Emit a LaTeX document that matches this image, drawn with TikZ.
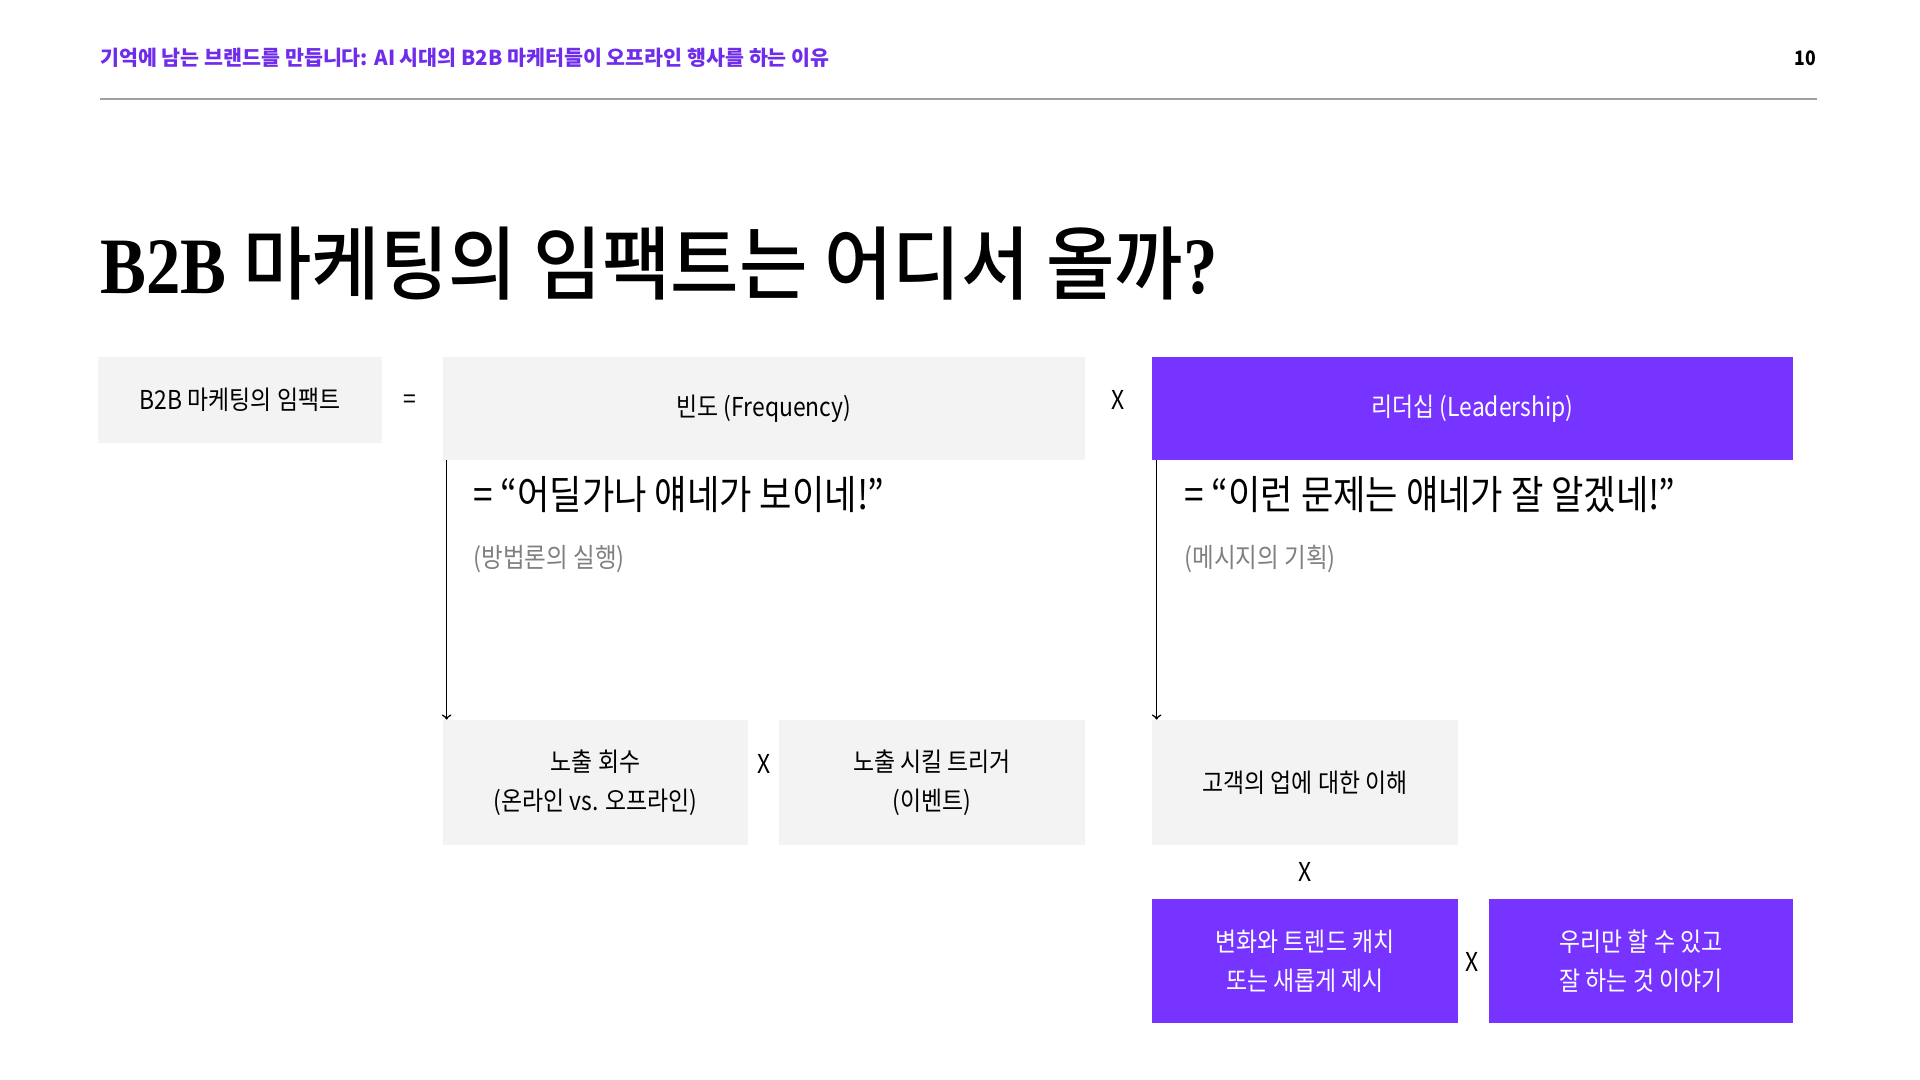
\documentclass[tikz,border=0pt]{standalone}
\usepackage{fontspec}
\setmainfont{Noto Sans CJK KR}[FakeStretch=0.88]
\newfontfamily\headfont{Noto Sans CJK KR}
\newfontfamily\titlefont{Noto Sans CJK KR Medium}[FakeStretch=0.93]
\newfontfamily\titleserif{Liberation Serif}[FakeStretch=0.86]
\definecolor{brandpurple}{RGB}{119,51,255}
\definecolor{headpurple}{RGB}{112,44,235}
\definecolor{boxgray}{RGB}{243,243,243}
\definecolor{notegray}{RGB}{128,128,128}
\definecolor{rulegray}{RGB}{160,160,160}

\begin{document}
\begin{tikzpicture}[x=0.5pt, y=-0.5pt]
        \tikzstyle{every node}=[inner sep=0pt, align=center, font=\fontsize{13}{19.5}\selectfont]
        \tikzstyle{graybox}=[rectangle, fill=boxgray, minimum width=153pt, minimum height=62.5pt]
        \tikzstyle{purplebox}=[rectangle, fill=brandpurple, text=white, minimum width=153pt, minimum height=62pt]
        \tikzstyle{quote}=[anchor=west, font=\fontsize{20}{24}\selectfont]
        \tikzstyle{note}=[anchor=west, text=notegray, font=\fontsize{13.4}{16}\selectfont]
        \tikzstyle{link}=[->, line width=0.8pt]
        \useasboundingbox (0,0) rectangle (1920,1080);
        \node [anchor=west, text=headpurple, font=\headfont\fontsize{10.3}{12}\selectfont\bfseries] (header) at (100,58) {기억에 남는 브랜드를 만듭니다: AI 시대의 B2B 마케터들이 오프라인 행사를 하는 이유};
        \node [font=\fontsize{10}{12}\selectfont\bfseries] (page) at (1805,58) {10};
        \draw [rulegray, line width=0.7pt] (100,99) -- (1817,99);
        \node [anchor=base west, font=\titlefont\fontsize{40}{44}\selectfont] (title) at (100,294) {{\titleserif\bfseries B2B} 마케팅의 임팩트는 어디서 올까{\titleserif\bfseries ?}};
        \node [graybox, minimum width=142pt, minimum height=43pt] (impact) at (240,400) {B2B 마케팅의 임팩트};
        \node (eq) at (410,402) {=};
        \node [graybox, minimum width=321pt, minimum height=51.5pt] (freq) at (764,408.5) {빈도 (Frequency)};
        \node (x1) at (1118,400) {X};
        \node [purplebox, minimum width=320.5pt, minimum height=51.5pt] (lead) at (1472.5,408.5) {리더십 (Leadership)};
        \node [quote] (freqquote) at (473,495) {= “어딜가나 얘네가 보이네!”};
        \node [note] (freqnote) at (473,559) {(방법론의 실행)};
        \node [quote] (leadquote) at (1184,495) {= “이런 문제는 얘네가 잘 알겠네!”};
        \node [note] (leadnote) at (1184,559) {(메시지의 기획)};
        \node [graybox, minimum width=152.5pt] (count) at (595.5,782.5) {노출 회수\\(온라인 vs. 오프라인)};
        \node (x2) at (764,764) {X};
        \node [graybox] (trigger) at (932,782.5) {노출 시킬 트리거\\(이벤트)};
        \node [graybox] (insight) at (1305,782.5) {고객의 업에 대한 이해};
        \node (x3) at (1305,872) {X};
        \node [purplebox] (trend) at (1305,961) {변화와 트렌드 캐치\\또는 새롭게 제시};
        \node (x4) at (1472,962) {X};
        \node [purplebox, minimum width=152pt] (ours) at (1641,961) {우리만 할 수 있고\\잘 하는 것 이야기};
        \draw [link] ([xshift=2pt]freq.south west) -- ([xshift=2pt]count.north west);
        \draw [link] ([xshift=2.5pt]lead.south west) -- ([xshift=2.5pt]insight.north west);
    \end{tikzpicture}
\end{document}
